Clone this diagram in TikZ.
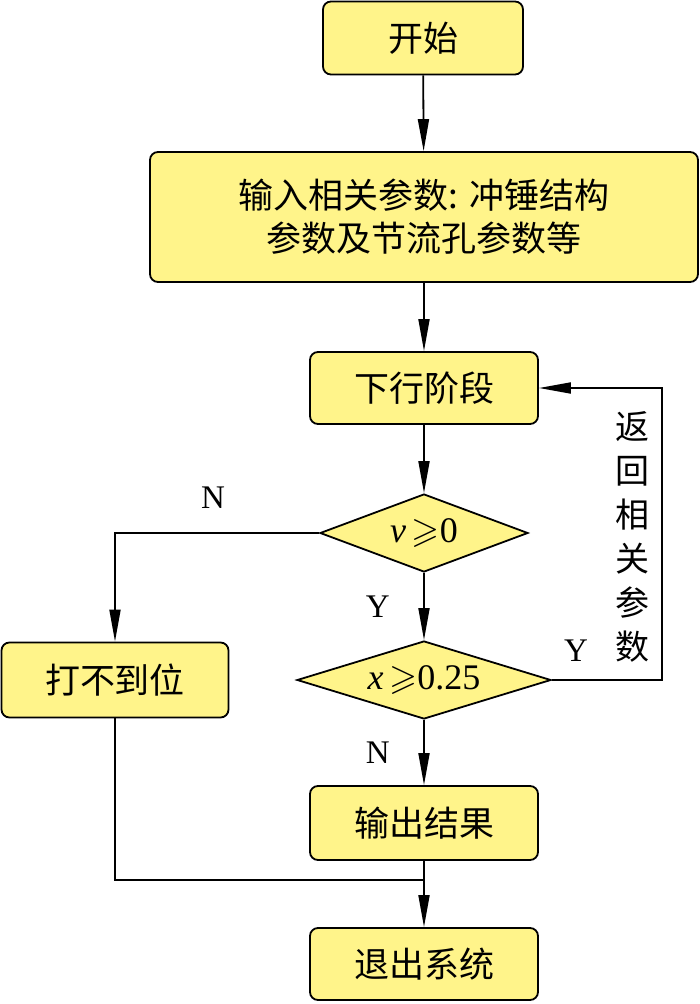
\documentclass[tikz,border=0pt]{standalone}
\usepackage{fix-cm}
\usepackage{amssymb}
\usepackage{fontspec}
\setmainfont{Liberation Serif}
\newfontfamily\cjk{Noto Sans CJK SC}
\usetikzlibrary{shapes.geometric, arrows.meta, positioning}

\definecolor{boxyellow}{RGB}{255,244,138}
\tikzset{
  stepbox/.style={draw, line width=1.8pt, rounded corners=8pt, fill=boxyellow, inner sep=0pt,
    font=\cjk\fontsize{35}{43}\selectfont, align=center},
  decide/.style={draw, diamond, line width=1.8pt, fill=boxyellow, inner sep=0pt,
    font=\fontsize{36}{40}\selectfont},
  flow/.style={line width=1.8pt, -{Triangle[length=32pt,width=11pt]}},
  link/.style={line width=1.8pt},
  yn/.style={font=\fontsize{33}{36}\selectfont}
}

\begin{document}
\begin{tikzpicture}[x=1pt,y=-1pt]
	\useasboundingbox (0,0) rectangle (700,1004);
	% boxes
	\node[stepbox, minimum width=200pt, minimum height=73pt] (start) at (423,38) {开始};
	\node[stepbox, minimum width=548pt, minimum height=130pt] (input) at (424,217) {输入相关参数: 冲锤结构\\参数及节流孔参数等};
	\node[stepbox, minimum width=228pt, minimum height=72pt] (down) at (424,388) {下行阶段};
	\node[decide, aspect=2.67, minimum width=208pt, minimum height=78pt] (vel) at (424,533) {\textit{v}\,$\geqslant$0};
	\node[decide, aspect=3.26, minimum width=254pt, minimum height=78pt] (disp) at (424,680) {\textit{x}\,$\geqslant$0.25};
	\node[stepbox, minimum width=227pt, minimum height=75pt] (miss) at (115,680) {打不到位};
	\node[stepbox, minimum width=228pt, minimum height=74pt] (result) at (424,823) {输出结果};
	\node[stepbox, minimum width=228pt, minimum height=72pt] (quit) at (424,964) {退出系统};
	\node[font=\cjk\fontsize{34}{44}\selectfont, align=center] (back) at (632,537) {返\\回\\相\\关\\参\\数};
	\coordinate (merge) at (424,880);
	\coordinate (turn) at (662,680);
	% connectors
	\draw[flow] (start) -- (input);
	\draw[flow] (input) -- (down);
	\draw[flow] (down) -- (vel);
	\draw[flow] (vel) -- node[yn, left=30pt] {Y} (disp);
	\draw[flow] (disp) -- node[yn, left=30pt] {N} (result);
	\draw[flow] (result) -- (quit);
	\draw[flow] (vel.west) -| node[yn, pos=0.26, above=20pt] {N} (miss.north);
	\draw[link] (miss.south) |- (merge);
	\draw[flow] (disp.east) -- node[yn, pos=0.22, above=14pt] {Y} (turn) |- (down.east);
\end{tikzpicture}
\end{document}
